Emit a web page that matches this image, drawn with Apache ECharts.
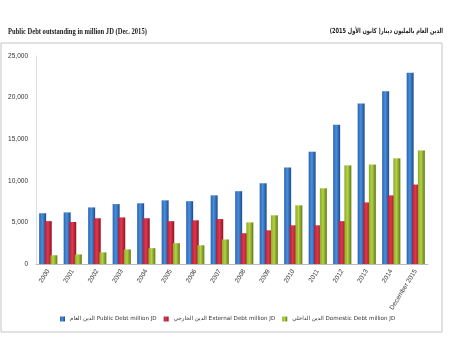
<!DOCTYPE html>
<html>
<head>
<meta charset="utf-8">
<script src="https://cdn.jsdelivr.net/npm/echarts@6/dist/echarts.min.js"></script>
<style>
  html, body { margin: 0; padding: 0; background: #fff; }
  #chart { width: 450px; height: 350px; }
</style>
</head>
<body>
<div id="chart"></div>
<script>
// categories and values (million JD)
const years = ['2000', '2001', '2002', '2003', '2004', '2005', '2006', '2007',
  '2008', '2009', '2010', '2011', '2012', '2013', '2014', 'December 2015']
const publicDebt = [6100, 6200, 6800, 7200, 7300, 7650, 7550, 8250, 8750, 9700,
  11600, 13500, 16750, 19300, 20750, 23000]
const externalDebt = [5150, 5050, 5500, 5600, 5500, 5150, 5250, 5400, 3700, 4050,
  4650, 4650, 5150, 7400, 8250, 9550]
const domesticDebt = [1050, 1150, 1400, 1750, 1900, 2500, 2250, 2950, 5000, 5850,
  7050, 9100, 11850, 11950, 12700, 13650]
const seriesNames = ['الدين العام Public Debt million JD',
  'الدين الخارجي External Debt million JD',
  'الدين الداخلي Domestic Debt million JD']

const chart = echarts.init(document.getElementById('chart'))

// cylinder-ish shading
const shade = (dark, mid, light) => new echarts.graphic.LinearGradient(0, 0, 1, 0, [
  { offset: 0, color: mid },
  { offset: 0.45, color: light },
  { offset: 1, color: dark }
])

const barSeries = (name, data, color, flat) => ({
  name,
  type: 'bar',
  data,
  color: flat,
  barWidth: 7,
  barGap: '-20%',
  itemStyle: { color }
})

const option = {
  backgroundColor: '#fff',
  animation: false,
  graphic: [
    {
      type: 'rect',
      shape: { x: 1, y: 43, width: 441, height: 289 },
      style: { fill: 'none', stroke: '#c4c4c4', lineWidth: 1 }
    },
    {
      type: 'text',
      x: 8,
      y: 28,
      scaleX: 0.82,
      style: {
        text: 'Public Debt outstanding in million JD (Dec. 2015)',
        fontFamily: 'Liberation Serif',
        fontWeight: 'bold',
        fontSize: 8,
        fill: '#222'
      }
    },
    {
      type: 'text',
      x: 443,
      y: 28,
      scaleX: 0.72,
      style: {
        text: 'الدين العام بالمليون دينار( كانون الأول 2015)',
        align: 'right',
        fontFamily: 'DejaVu Sans',
        fontWeight: 'bold',
        fontSize: 7,
        fill: '#222'
      }
    }
  ],
  legend: {
    top: 311,
    left: 55,
    width: 400,
    itemWidth: 5,
    itemHeight: 5,
    itemGap: 7,
    icon: 'rect',
    textStyle: { fontSize: 5.6, color: '#333', fontFamily: 'DejaVu Sans' },
    data: seriesNames
  },
  grid: { left: 36, right: 22, top: 56, bottom: 86 },
  xAxis: {
    type: 'category',
    data: years,
    axisLine: { lineStyle: { color: '#bbb' } },
    axisTick: { show: false },
    axisLabel: {
      rotate: 58,
      fontSize: 6.5,
      color: '#333',
      margin: 6,
      interval: 0
    }
  },
  yAxis: {
    type: 'value',
    min: 0,
    max: 25000,
    interval: 5000,
    axisLine: { show: true, lineStyle: { color: '#ddd' } },
    axisTick: { show: false },
    splitLine: { show: false },
    axisLabel: {
      fontSize: 6.5,
      color: '#333',
      margin: 8,
      formatter: v => v.toLocaleString('en-US')
    }
  },
  series: [
    barSeries(seriesNames[0], publicDebt, shade('#1a4b8c', '#2a64b0', '#4a8fdc'), '#2e6fc0'),
    barSeries(seriesNames[1], externalDebt, shade('#8e1424', '#b81e34', '#e0384e'), '#c8243a'),
    barSeries(seriesNames[2], domesticDebt, shade('#5f7a18', '#8aa829', '#b4d243'), '#9cba32')
  ]
}

chart.setOption(option)
</script>
</body>
</html>
